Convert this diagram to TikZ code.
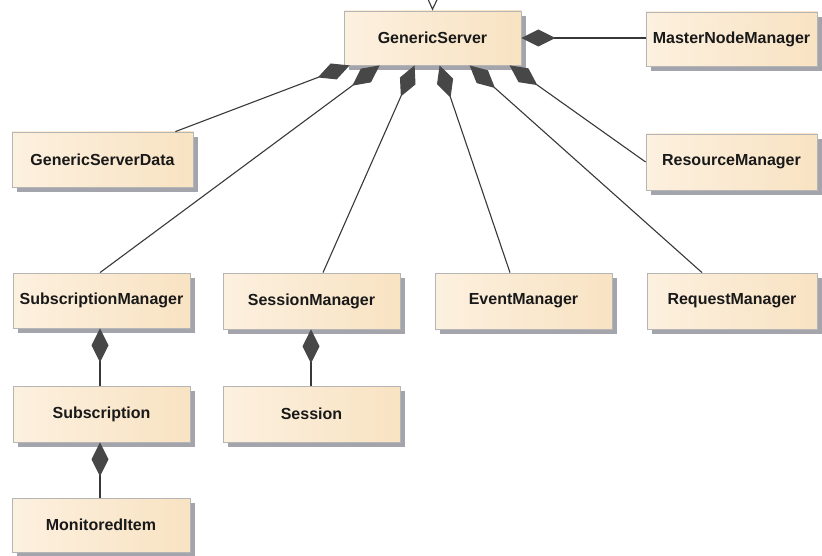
\documentclass[tikz,border=0pt]{standalone}
\usepackage{fontspec}
\setmainfont{Liberation Sans}
\usetikzlibrary{arrows.meta,shadows,calc}
\definecolor{shA}{HTML}{F2DABA}
\definecolor{shB}{HTML}{FDF2E3}
\definecolor{shC}{HTML}{F6DCB4}
\definecolor{bord}{HTML}{B5B5B5}
\definecolor{shad}{HTML}{A4A4AC}
\definecolor{lnc}{HTML}{383838}
\definecolor{dia}{HTML}{474747}
\pgfdeclarehorizontalshading{boxshade}{100bp}{color(0bp)=(shA); color(18bp)=(shB); color(100bp)=(shC)}
\begin{document}
\begin{tikzpicture}[x=1pt,y=-1pt,
  cls/.style={draw=bord, line width=0.8pt, shading=boxshade, minimum height=55pt,
    font=\fontsize{16}{19}\selectfont\bfseries, text=black!90,
    drop shadow={shadow xshift=5pt, shadow yshift=-5pt, fill=shad, opacity=1}},
  comp/.style={draw=lnc, line width=1.1pt, -{Diamond[length=34pt,width=17pt,fill=dia,color=dia]}},
  gen/.style={draw=lnc, line width=1.1pt, -{Triangle[open,length=22pt,width=20pt,fill=white]}}]
\useasboundingbox (0,0) rectangle (822,556);
\node[cls, minimum width=177pt, minimum height=54pt] (gs) at (432.5,38) {GenericServer};
\node[cls, minimum width=171pt, minimum height=54pt] (mnm) at (731.5,39) {MasterNodeManager};
\node[cls, minimum width=181pt] (gsd) at (102.5,159.5) {GenericServerData};
\node[cls, minimum width=171pt, minimum height=56pt] (resm) at (731.5,162) {ResourceManager};
\node[cls, minimum width=177pt] (subm) at (101.5,300.5) {SubscriptionManager};
\node[cls, minimum width=177pt, minimum height=56pt] (sessm) at (311.5,301) {SessionManager};
\node[cls, minimum width=177pt, minimum height=56pt] (evm) at (523.5,301) {EventManager};
\node[cls, minimum width=170pt, minimum height=56pt] (reqm) at (732,301) {RequestManager};
\node[cls, minimum width=177pt, minimum height=56pt] (sub) at (101.5,414) {Subscription};
\node[cls, minimum width=177pt, minimum height=56pt] (sess) at (311.5,414) {Session};
\node[cls, minimum width=178pt, minimum height=54pt] (mon) at (101,525) {MonitoredItem};
\coordinate (parent) at (433,-40);
\draw[gen] (parent) -- (gs.north);
\draw[comp] (gs.east -| mnm.west) -- (gs.east);
\draw[comp] ([xshift=-18pt]gsd.north east) -- ([xshift=6pt]gs.south west);
\draw[comp] ([xshift=-1.5pt]subm.north) -- ([xshift=36pt]gs.south west);
\draw[comp] ([xshift=11.5pt]sessm.north) -- ([xshift=71pt]gs.south west);
\draw[comp] ([xshift=-13.5pt]evm.north) -- ([xshift=96pt]gs.south west);
\draw[comp] ([xshift=-30pt]reqm.north) -- ([xshift=126pt]gs.south west);
\draw[comp] (resm.west) -- ([xshift=166pt]gs.south west);
\draw[comp] ([xshift=-1.5pt]sub.north) -- ([xshift=-1.5pt]subm.south);
\draw[comp] ([xshift=-0.5pt]sess.north) -- ([xshift=-0.5pt]sessm.south);
\draw[comp] ([xshift=-1pt]mon.north) -- ([xshift=-1.5pt]sub.south);
\end{tikzpicture}
\end{document}
